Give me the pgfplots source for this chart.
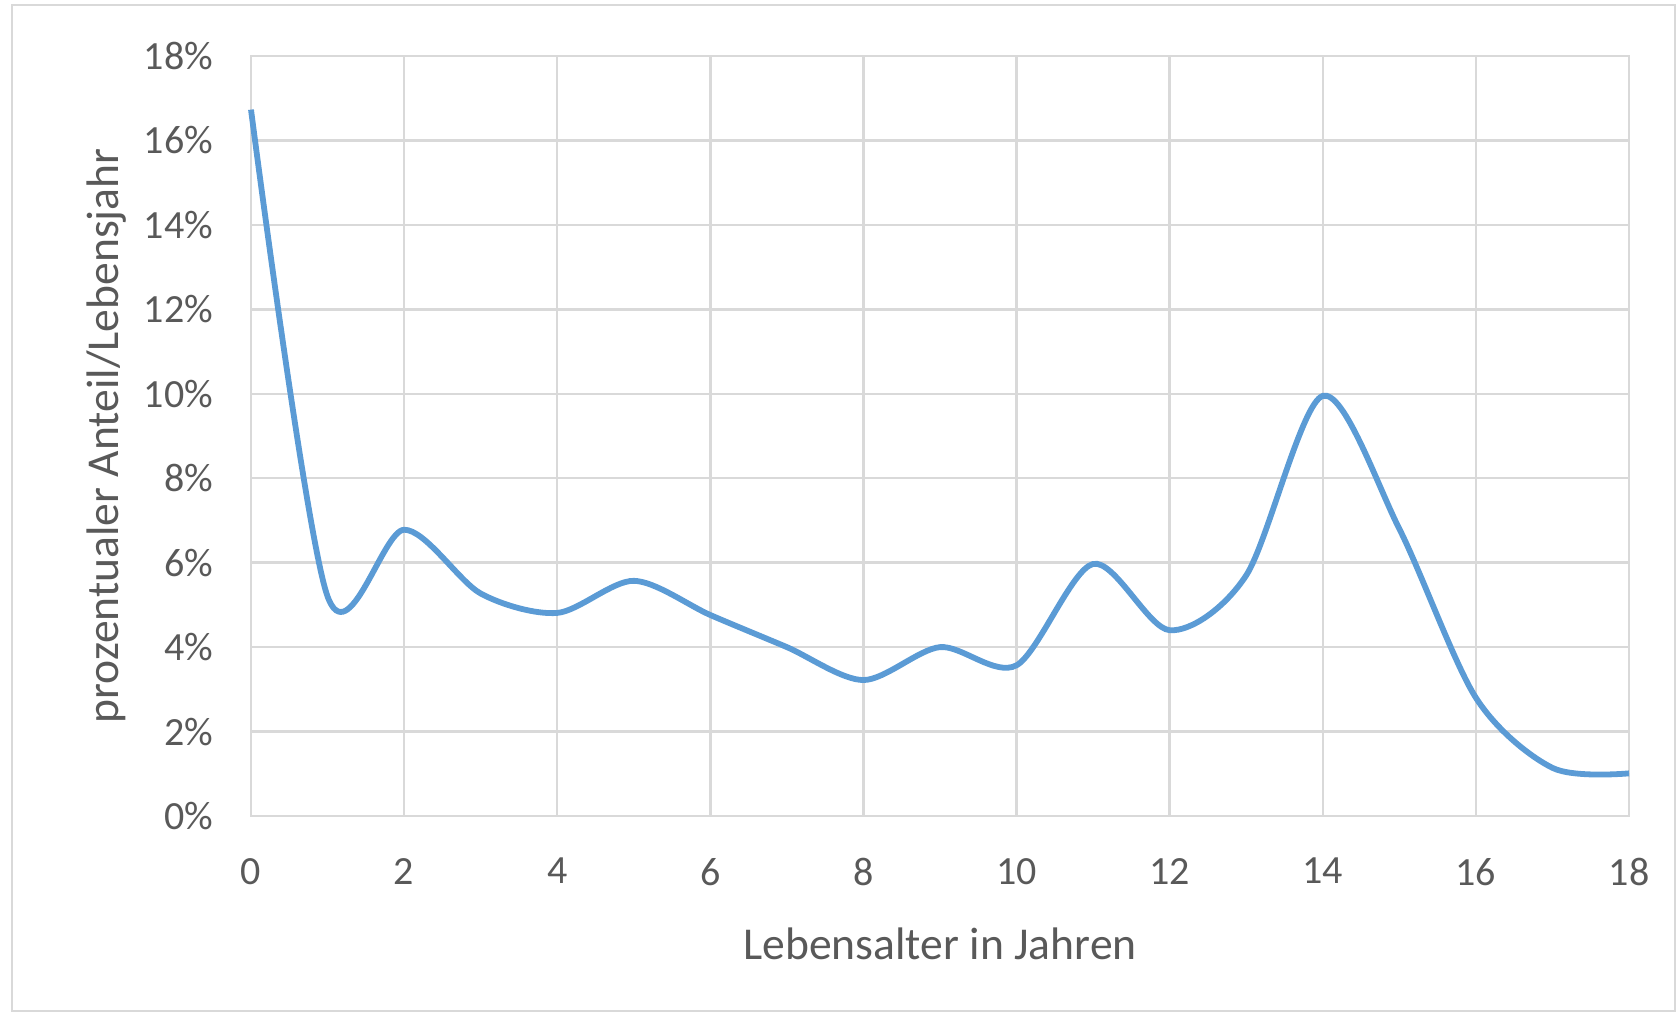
\documentclass[border=0pt]{standalone}
\usepackage{pgfplots}
\pgfplotsset{compat=1.18}
\usepackage{fontspec}
\setmainfont{Carlito}

\definecolor{xlblue}{HTML}{5B9BD5}
\definecolor{xlgrid}{HTML}{D9D9D9}
\definecolor{xltext}{HTML}{595959}

\begin{document}
\begin{tikzpicture}
\path[use as bounding box] (0,0) rectangle (419.5pt,254.5pt);
\draw[xlgrid, line width=0.5pt] (3pt,1.75pt) rectangle (418.75pt,253.25pt);
\begin{axis}[
    at={(62.75pt,50.5pt)}, anchor=south west,
    scale only axis,
    width=344.5pt, height=190pt,
    xmin=0, xmax=18, ymin=0, ymax=18,
    xtick={0,2,...,18},
    ytick={0,2,...,18},
    yticklabel={\pgfmathprintnumber{\tick}\%},
    axis line style={xlgrid, line width=0.6pt},
    grid=major,
    major grid style={xlgrid, line width=0.6pt},
    tick style={draw=none},
    font=\fontsize{10}{12}\selectfont,
    tick label style={text=xltext},
    /pgf/number format/assume math mode=true,
    yticklabel style={anchor=east, xshift=-6pt},
    xticklabel style={anchor=north, yshift=-7pt},
    xlabel={Lebensalter in Jahren},
    ylabel={prozentualer Anteil/Lebensjahr},
    label style={text=xltext, font=\fontsize{11.4}{13}\selectfont},
    xlabel style={at={(axis description cs:0.5,-0.1684)}, anchor=center},
    ylabel style={at={(axis description cs:-0.1045,0.5)}, anchor=center, rotate=0},
    clip=false,
]
\addplot[xlblue, line width=1.45pt, smooth, tension=0.5] coordinates {
    (0,16.73) (1,5.2) (2,6.78) (3,5.27) (4,4.81) (5,5.57) (6,4.76)
    (7,4.0) (8,3.22) (9,4.0) (10,3.57) (11,5.97) (12,4.4) (13,5.7)
    (14,9.95) (15,6.8) (16,2.8) (17,1.14) (18,1.01)
};
\end{axis}
\end{tikzpicture}
\end{document}
